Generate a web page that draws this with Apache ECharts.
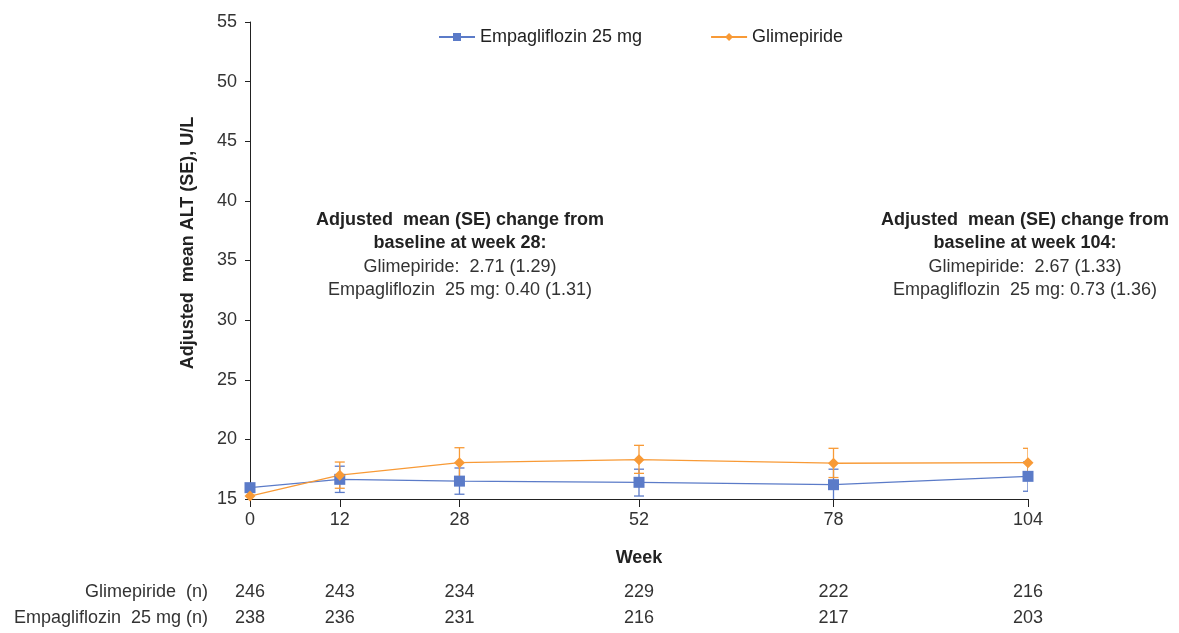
<!DOCTYPE html>
<html>
<head>
<meta charset="utf-8">
<script src="https://cdn.jsdelivr.net/npm/echarts@6/dist/echarts.min.js"></script>
<style>html,body{margin:0;padding:0;background:#fff}#c{width:1179px;height:633px}</style>
</head>
<body>
<div id="c"></div>
<script>
var weeks = [0, 12, 28, 52, 78, 104];
var yTicks = [15, 20, 25, 30, 35, 40, 45, 50, 55];
var empaName = 'Empagliflozin 25 mg';
var glimName = 'Glimepiride';
var empaMean = [15.95, 16.65, 16.5, 16.4, 16.2, 16.9];
var empaLow  = [null, 15.55, 15.4, 15.25, 14.9, 15.65];
var empaHigh = [null, 17.75, 17.6, 17.5, 17.5, 18.1];
var glimMean = [15.25, 17.0, 18.05, 18.3, 18.0, 18.05];
var glimLow  = [null, 15.9, 16.85, 17.15, 16.8, 16.85];
var glimHigh = [null, 18.1, 19.3, 19.5, 19.25, 19.25];
var glimN = [246, 243, 234, 229, 222, 216];
var empaN = [238, 236, 231, 216, 217, 203];
var note28 = ['Adjusted  mean (SE) change from', 'baseline at week 28:', 'Glimepiride:  2.71 (1.29)', 'Empagliflozin  25 mg: 0.40 (1.31)'];
var note104 = ['Adjusted  mean (SE) change from', 'baseline at week 104:', 'Glimepiride:  2.67 (1.33)', 'Empagliflozin  25 mg: 0.73 (1.36)'];

var FONT = '"Liberation Sans", Arial, sans-serif';
var FS = 18;
var TXT = '#333333';
var BLUE = '#5b7bc8';
var ORANGE = '#f89a36';

function pairs(xs, ys) { return xs.map(function (x, i) { return [x, ys[i]]; }); }
function errData(lo, hi) {
  var out = [];
  weeks.forEach(function (w, i) { if (lo[i] != null) out.push([w, lo[i], hi[i]]); });
  return out;
}
function errRender(color) {
  return function (params, api) {
    var x = api.value(0);
    var p1 = api.coord([x, api.value(1)]);
    var p2 = api.coord([x, api.value(2)]);
    var hw = 5;
    var st = { stroke: color, lineWidth: 1.3 };
    return {
      type: 'group',
      children: [
        { type: 'line', shape: { x1: p1[0], y1: p1[1], x2: p2[0], y2: p2[1] }, style: st },
        { type: 'line', shape: { x1: p1[0] - hw, y1: p1[1], x2: p1[0] + hw, y2: p1[1] }, style: st },
        { type: 'line', shape: { x1: p2[0] - hw, y1: p2[1], x2: p2[0] + hw, y2: p2[1] }, style: st }
      ]
    };
  };
}
function nAxis(name, values, offset) {
  return {
    type: 'value', min: 0, max: 104, position: 'bottom', offset: offset,
    axisLine: { show: false }, axisTick: { show: false }, splitLine: { show: false },
    name: name, nameLocation: 'start', nameGap: 42,
    nameTextStyle: { fontFamily: FONT, fontSize: FS, color: TXT, verticalAlign: 'middle', align: 'right' },
    axisLabel: {
      customValues: weeks, margin: 0, verticalAlign: 'middle',
      fontFamily: FONT, fontSize: FS, color: TXT,
      formatter: function (v) { var i = weeks.indexOf(v); return i >= 0 ? String(values[i]) : ''; }
    }
  };
}
function noteGraphic(lines, cx) {
  var ys = [220, 243, 267, 290];
  return lines.map(function (t, i) {
    return {
      type: 'text', x: cx, y: ys[i],
      style: { text: t, fontFamily: FONT, fontSize: FS, fontWeight: i < 2 ? 'bold' : 'normal', fill: i < 2 ? '#222' : TXT, align: 'center', verticalAlign: 'middle' }
    };
  });
}

var chart = echarts.init(document.getElementById('c'));
chart.setOption({
  animation: false,
  backgroundColor: '#fff',
  grid: { left: 250, top: 22, width: 778, height: 477 },
  legend: {
    top: 23, left: 433, itemWidth: 36, itemHeight: 10, itemGap: 68,
    textStyle: { fontFamily: FONT, fontSize: FS, color: '#222' },
    data: [empaName, glimName]
  },
  xAxis: [
    {
      type: 'value', min: 0, max: 104,
      name: 'Week', nameLocation: 'middle', nameGap: 50,
      nameTextStyle: { fontFamily: FONT, fontSize: FS, fontWeight: 'bold', color: '#222' },
      axisLine: { lineStyle: { color: '#222', width: 1 } },
      axisTick: { customValues: weeks, length: 8, lineStyle: { color: '#222' } },
      axisLabel: { customValues: weeks, margin: 12, fontFamily: FONT, fontSize: FS, color: TXT },
      splitLine: { show: false }
    },
    nAxis('Glimepiride  (n)', glimN, 93),
    nAxis('Empagliflozin  25 mg (n)', empaN, 119)
  ],
  yAxis: {
    type: 'value', min: yTicks[0], max: yTicks[yTicks.length - 1], interval: 5,
    axisLine: { show: true, lineStyle: { color: '#222', width: 1 } },
    axisTick: { show: true, length: 5, lineStyle: { color: '#222' } },
    axisLabel: { margin: 13, fontFamily: FONT, fontSize: FS, color: TXT },
    splitLine: { show: false }
  },
  graphic: [
    {
      type: 'text', x: 188, y: 243, rotation: Math.PI / 2,
      style: { text: 'Adjusted  mean ALT (SE), U/L', fontFamily: FONT, fontSize: FS, fontWeight: 'bold', fill: '#222', align: 'center', verticalAlign: 'middle' }
    }
  ].concat(noteGraphic(note28, 460)).concat(noteGraphic(note104, 1025)),
  series: [
    {
      name: empaName + ' err', type: 'custom', xAxisIndex: 0, clip: true, z: 1,
      renderItem: errRender(BLUE), data: errData(empaLow, empaHigh), silent: true
    },
    {
      name: glimName + ' err', type: 'custom', xAxisIndex: 0, clip: true, z: 1,
      renderItem: errRender(ORANGE), data: errData(glimLow, glimHigh), silent: true
    },
    {
      name: empaName, type: 'line', xAxisIndex: 0, z: 3,
      data: pairs(weeks, empaMean), symbol: 'rect', symbolSize: 11,
      lineStyle: { color: BLUE, width: 1.3 }, itemStyle: { color: BLUE }
    },
    {
      name: glimName, type: 'line', xAxisIndex: 0, z: 3,
      data: pairs(weeks, glimMean), symbol: 'diamond', symbolSize: 11,
      lineStyle: { color: ORANGE, width: 1.3 }, itemStyle: { color: ORANGE }
    }
  ]
});
</script>
</body>
</html>
